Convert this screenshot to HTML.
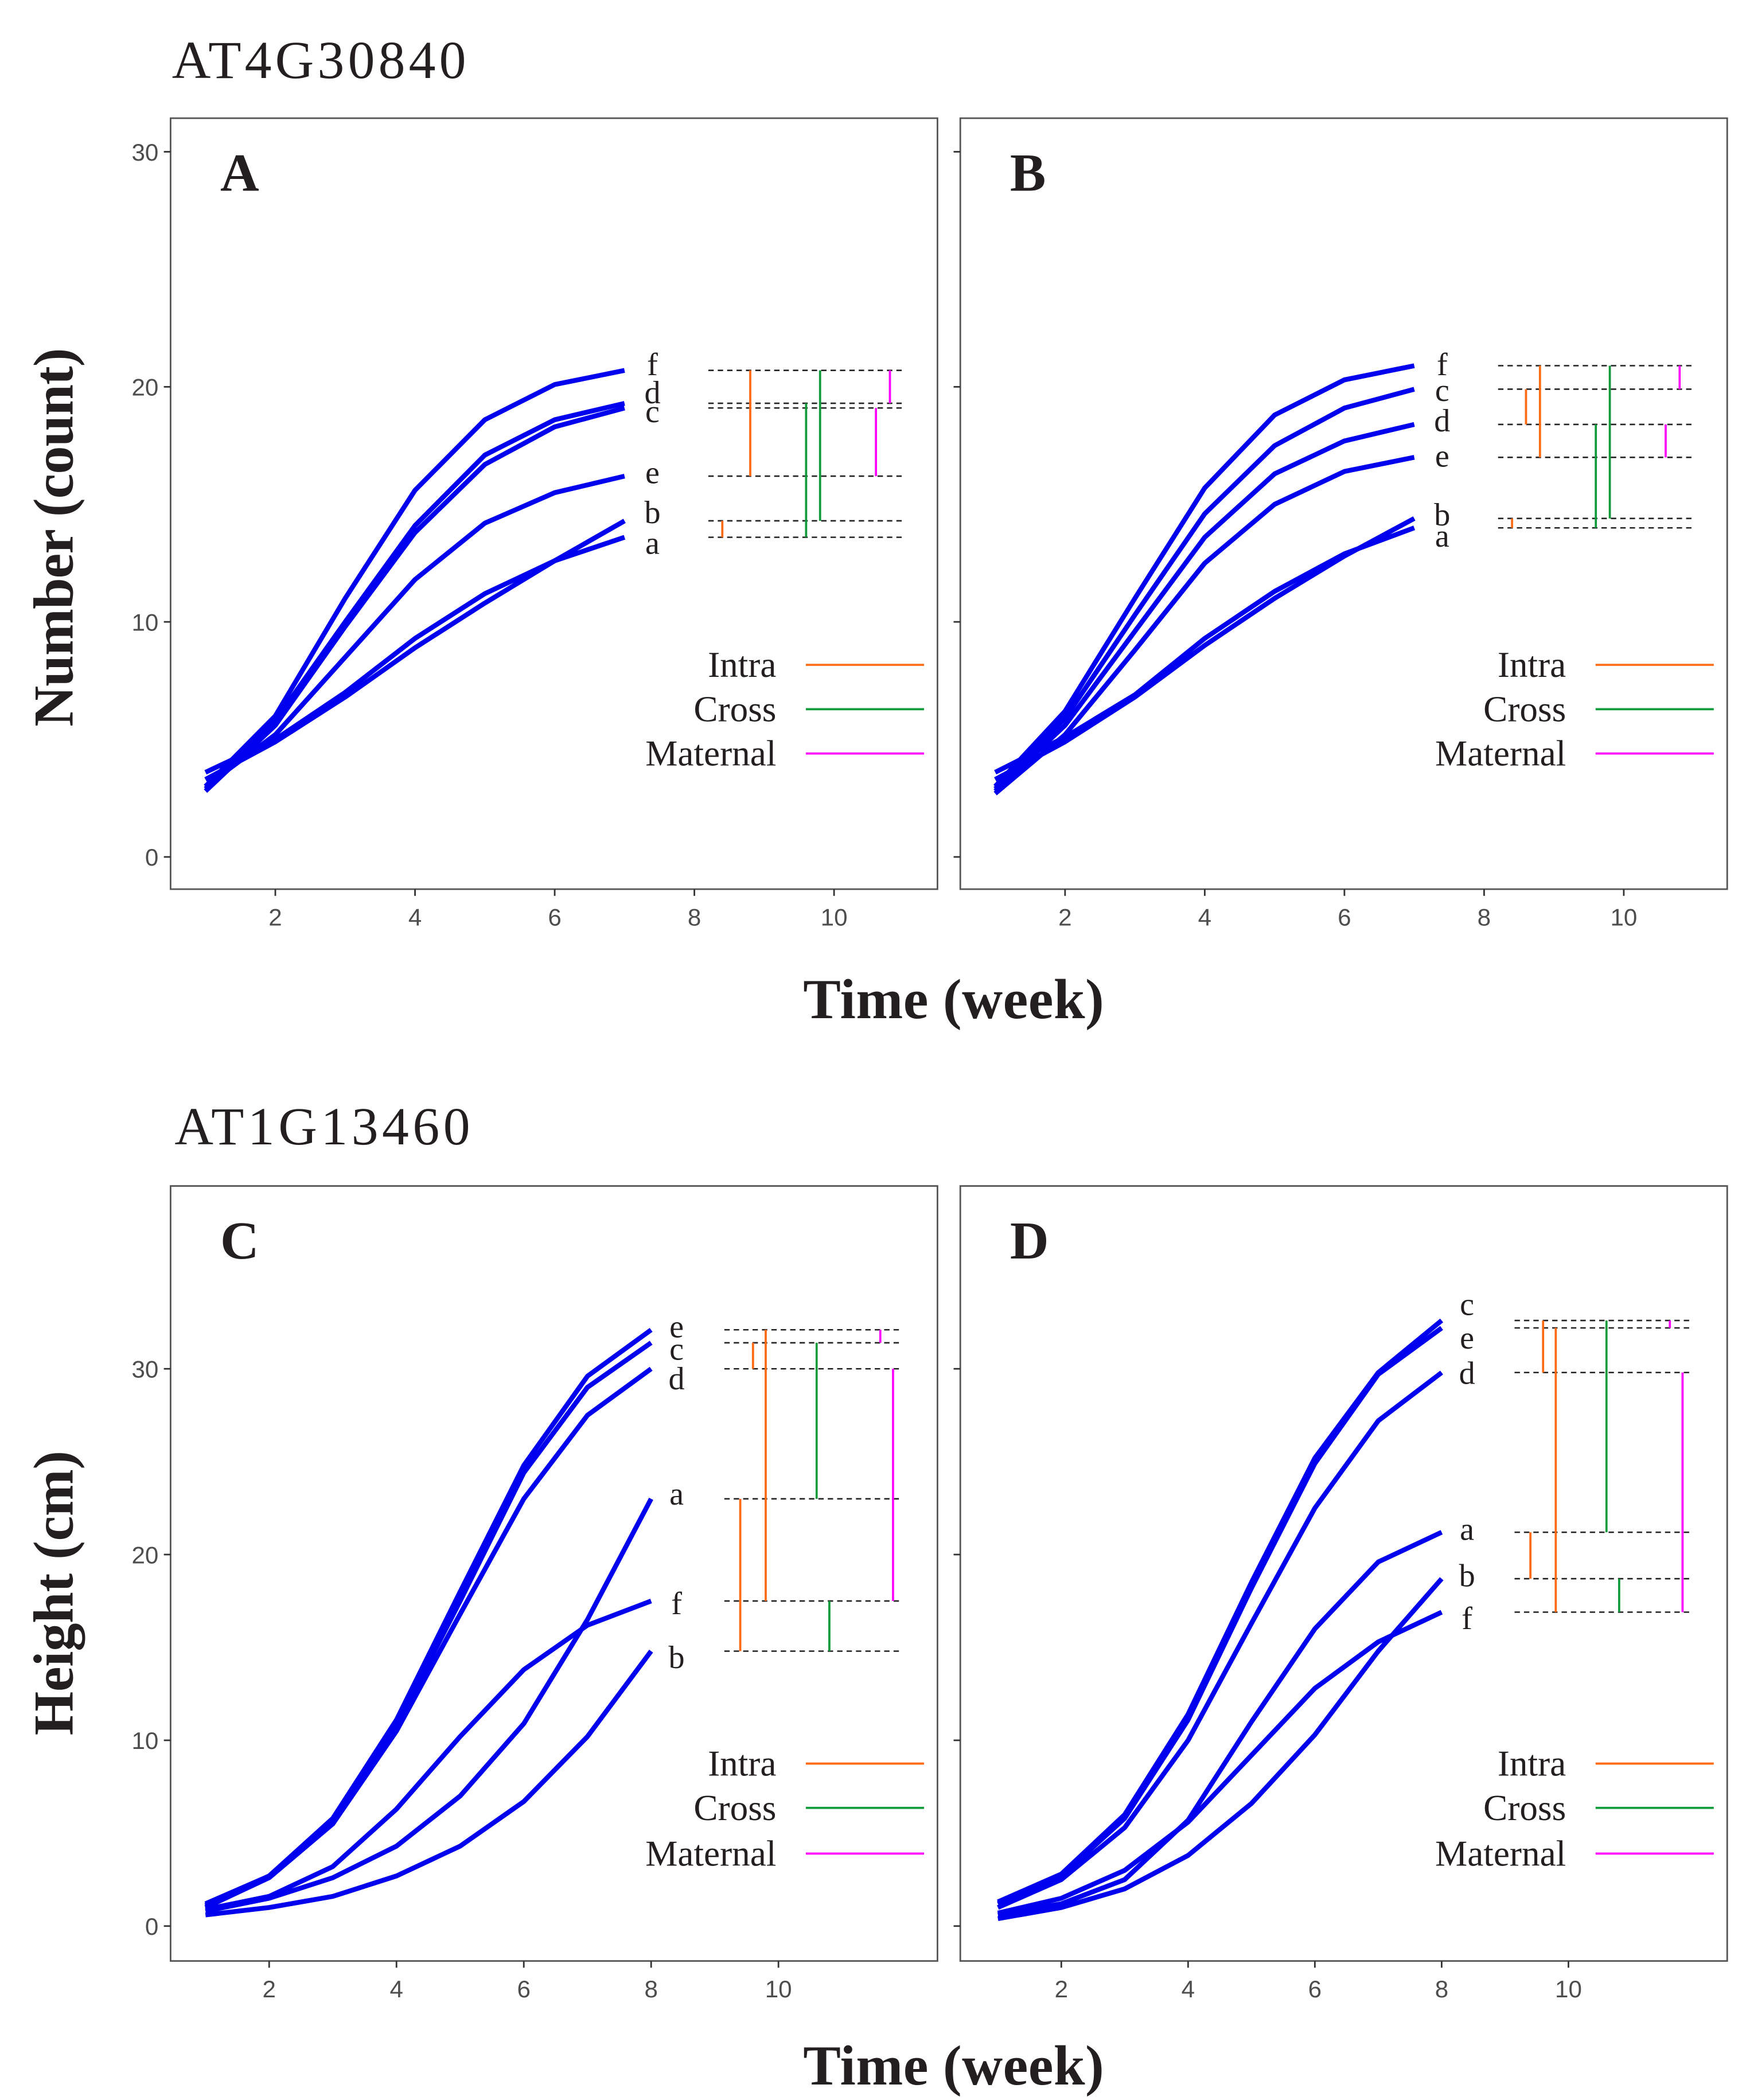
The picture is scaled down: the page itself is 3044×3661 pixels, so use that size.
<!DOCTYPE html>
<html><head><meta charset="utf-8">
<style>
html,body{margin:0;padding:0;background:#fff;}
svg{display:block;}
.serif{font-family:"Liberation Serif",serif;fill:#231f20;}
.tick{font-family:"Liberation Sans",sans-serif;fill:#4d4d4d;font-size:18px;}
</style></head>
<body>
<svg id="chart" width="3044" height="3661" viewBox="0 0 1300 1563.5" xmlns="http://www.w3.org/2000/svg">
<rect width="1300" height="1563.5" fill="#fff"/>
<text class="serif" x="128" y="58" font-size="40" textLength="219">AT4G30840</text>
<text class="serif" x="130" y="852" font-size="40" textLength="220">AT1G13460</text>
<text class="serif" x="710" y="758" font-size="42" font-weight="bold" text-anchor="middle" textLength="224">Time (week)</text>
<text class="serif" x="710" y="1552" font-size="42" font-weight="bold" text-anchor="middle" textLength="224">Time (week)</text>
<text class="serif" font-size="42" font-weight="bold" text-anchor="middle" transform="translate(54,400) rotate(-90)" textLength="282">Number (count)</text>
<text class="serif" font-size="42" font-weight="bold" text-anchor="middle" transform="translate(54,1186) rotate(-90)" textLength="212">Height (cm)</text>
<g id="panels"></g>
</svg>
<script>
// ---- data ----
const weeksTop = [1,2,3,4,5,6,7];
const weeksBottom = [1,2,3,4,5,6,7,8];
const seriesNamesA = ['f','d','c','e','b','a'];
const valuesA = [
 [3.0,6.0,11.0,15.6,18.6,20.1,20.7],
 [2.9,5.8,10.0,14.1,17.1,18.6,19.3],
 [2.8,5.6,9.8,13.8,16.7,18.3,19.1],
 [3.0,5.2,8.5,11.8,14.2,15.5,16.2],
 [3.3,4.9,6.8,8.9,10.8,12.6,14.3],
 [3.6,5.0,7.0,9.3,11.2,12.6,13.6]];
const labelValuesA = [20.9,19.7,18.9,16.3,14.6,13.3];
const compA = [['intra',8.4,'a','b'],['intra',8.8,'e','f'],['cross',9.6,'a','d'],['cross',9.8,'b','f'],['maternal',10.6,'e','c'],['maternal',10.8,'d','f']];

const seriesNamesB = ['f','c','d','e','b','a'];
const valuesB = [
 [3.0,6.2,11.0,15.7,18.8,20.3,20.9],
 [2.9,5.9,10.3,14.6,17.5,19.1,19.9],
 [2.8,5.6,9.6,13.6,16.3,17.7,18.4],
 [2.7,5.2,8.8,12.5,15.0,16.4,17.0],
 [3.3,4.9,6.8,9.0,11.0,12.8,14.4],
 [3.6,5.1,6.9,9.3,11.3,12.9,14.0]];
const labelValuesB = [20.9,19.8,18.5,17.0,14.5,13.6];
const compB = [['intra',8.4,'a','b'],['intra',8.6,'d','c'],['intra',8.8,'e','f'],['cross',9.6,'a','d'],['cross',9.8,'b','f'],['maternal',10.6,'e','d'],['maternal',10.8,'c','f']];

const seriesNamesC = ['e','c','d','a','f','b'];
const valuesC = [
 [1.2,2.7,5.8,11.1,18.0,24.8,29.6,32.1],
 [1.1,2.7,5.7,10.8,17.5,24.4,29.0,31.4],
 [1.0,2.6,5.5,10.5,16.8,23.0,27.5,30.0],
 [0.8,1.5,2.6,4.3,7.0,10.9,16.5,23.0],
 [0.9,1.6,3.2,6.3,10.2,13.8,16.2,17.5],
 [0.6,1.0,1.6,2.7,4.3,6.7,10.2,14.8]];
const labelValuesC = [32.2,31.0,29.4,23.2,17.3,14.4];
const compC = [['intra',9.4,'b','a'],['intra',9.6,'d','c'],['intra',9.8,'f','e'],['cross',10.6,'a','c'],['cross',10.8,'b','f'],['maternal',11.6,'c','e'],['maternal',11.8,'f','d']];

const seriesNamesD = ['c','e','d','a','b','f'];
const valuesD = [
 [1.3,2.8,6.0,11.4,18.5,25.2,29.8,32.6],
 [1.2,2.7,5.8,11.1,18.2,24.9,29.7,32.2],
 [1.0,2.5,5.3,10.0,16.3,22.5,27.2,29.8],
 [0.6,1.2,2.5,5.7,11.0,16.0,19.6,21.2],
 [0.4,1.0,2.0,3.8,6.6,10.3,14.8,18.7],
 [0.7,1.5,3.0,5.6,9.2,12.8,15.3,16.9]];
const labelValuesD = [33.4,31.6,29.7,21.3,18.8,16.5];
const compD = [['intra',9.4,'b','a'],['intra',9.6,'d','c'],['intra',9.8,'f','e'],['cross',10.6,'a','c'],['cross',10.8,'f','b'],['maternal',11.6,'e','c'],['maternal',11.8,'f','d']];

const yTicksTop = [0,10,20,30];
const yTicksBottom = [0,10,20,30];
const xTicks = [2,4,6,8,10];
const legendLabels = ['Intra','Cross','Maternal'];
// ---- layout ----
const colors = {intra:'#ff6a13', cross:'#119a3a', maternal:'#ff00ff'};
const NS='http://www.w3.org/2000/svg';
const root=document.getElementById('panels');
function mk(tag,attrs,parent){const e=document.createElementNS(NS,tag);for(const k in attrs)e.setAttribute(k,attrs[k]);(parent||root).appendChild(e);return e;}

const panels=[
 {id:'a',letter:'A',box:[127,88,698,662],x1:153,xu:52,y0:638,yu:17.5,weeks:weeksTop,names:seriesNamesA,vals:valuesA,lab:labelValuesA,comp:compA,yt:yTicksTop,showY:true,labX:7.4,dash:[8.2,11.0],legY:[495,528,561]},
 {id:'b',letter:'B',box:[715,88,1286,662],x1:741,xu:52,y0:638,yu:17.5,weeks:weeksTop,names:seriesNamesB,vals:valuesB,lab:labelValuesB,comp:compB,yt:yTicksTop,showY:false,labX:7.4,dash:[8.2,11.0],legY:[495,528,561]},
 {id:'c',letter:'C',box:[127,883,698,1460],x1:153,xu:47.4,y0:1434,yu:13.83,weeks:weeksBottom,names:seriesNamesC,vals:valuesC,lab:labelValuesC,comp:compC,yt:yTicksBottom,showY:true,labX:8.4,dash:[9.15,11.95],legY:[1313,1346,1380]},
 {id:'d',letter:'D',box:[715,883,1286,1460],x1:743,xu:47.2,y0:1434,yu:13.83,weeks:weeksBottom,names:seriesNamesD,vals:valuesD,lab:labelValuesD,comp:compD,yt:yTicksBottom,showY:false,labX:8.4,dash:[9.15,11.95],legY:[1313,1346,1380]}
];

panels.forEach(p=>{
 const g=mk('g',{});
 
 
 const X=v=>p.x1+(v-1)*p.xu, Y=v=>p.y0-v*p.yu;
 const [l,t,r,b]=p.box;
 const frame=mk('rect',{x:l,y:t,width:r-l,height:b-t,fill:'none',stroke:'#555',"stroke-width":1.2},g);
 
 
 p.yt.forEach(v=>{
  const tk=mk('line',{x1:l-5,x2:l,y1:Y(v),y2:Y(v),stroke:'#333',"stroke-width":1.2},g);
  
  
  if(p.showY){const tx=mk('text',{x:l-9,y:Y(v)+6.5,class:'tick','text-anchor':'end'},g);tx.textContent=v;
   
   }
 });
 xTicks.forEach(v=>{
  const tk=mk('line',{x1:X(v),x2:X(v),y1:b,y2:b+5,stroke:'#333',"stroke-width":1.2},g);
  
  
  const tx=mk('text',{x:X(v),y:b+27,class:'tick','text-anchor':'middle'},g);tx.textContent=v;
  
  
 });
 const lt=mk('text',{x:l+37,y:t+54,class:'serif','font-size':40,'font-weight':'bold'},g);lt.textContent=p.letter;
 
 
 const ends={};
 p.vals.forEach((s,i)=>{
  const pts=s.map((v,j)=>X(p.weeks[j]).toFixed(1)+','+Y(v).toFixed(1)).join(' ');
  const pl=mk('polyline',{points:pts,fill:'none',stroke:'#0000ee','stroke-width':3.6,'stroke-linejoin':'round'},g);
  
  
  ends[p.names[i]]=s[s.length-1];
  const lb=mk('text',{x:X(p.labX),y:Y(p.lab[i])+7,class:'serif','font-size':24,'text-anchor':'middle'},g);lb.textContent=p.names[i];
  
  
 });
 p.names.forEach(n=>{
  const dl=mk('line',{x1:X(p.dash[0]),x2:X(p.dash[1]),y1:Y(ends[n]),y2:Y(ends[n]),stroke:'#222','stroke-width':1.1,'stroke-dasharray':'4,3'},g);
  
  
 });
 p.comp.forEach(c=>{
  const vl=mk('line',{x1:X(c[1]),x2:X(c[1]),y1:Y(ends[c[2]]),y2:Y(ends[c[3]]),stroke:colors[c[0]],'stroke-width':1.6},g);
  
  
 });
 ['intra','cross','maternal'].forEach((k,i)=>{
  const tx=mk('text',{x:l+451,y:p.legY[i]+9,class:'serif','font-size':27,'text-anchor':'end'},g);tx.textContent=legendLabels[i];
  
  
  const ln=mk('line',{x1:l+473,x2:l+561,y1:p.legY[i],y2:p.legY[i],stroke:colors[k],'stroke-width':1.6},g);
  
  
 });
});
</script>
</body></html>
